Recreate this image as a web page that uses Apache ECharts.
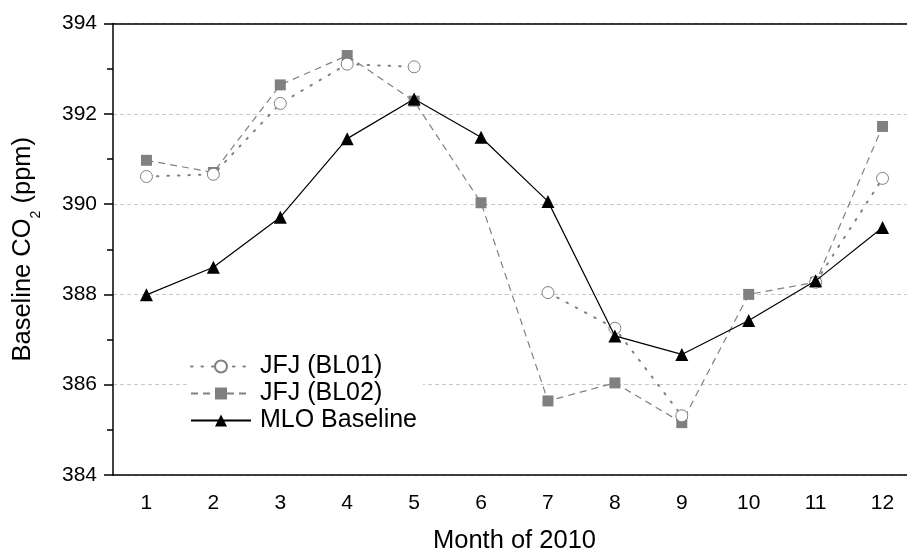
<!DOCTYPE html>
<html>
<head>
<meta charset="utf-8">
<script src="https://cdn.jsdelivr.net/npm/echarts@6/dist/echarts.min.js"></script>
<style>
html,body{margin:0;padding:0;background:#fff;}
#chart{width:907px;height:552px;}
</style>
</head>
<body>
<div id="chart"></div>
<script>
const months = ['1','2','3','4','5','6','7','8','9','10','11','12'];
const jfjBL01 = [390.61, 390.66, 392.23, 393.10, 393.04, null, 388.04, 387.25, 385.31, null, 388.27, 390.57];
const jfjBL02 = [390.97, 390.70, 392.64, 393.29, 392.28, 390.03, 385.64, 386.04, 385.16, 388.00, 388.27, 391.72];
const mloBaseline = [387.99, 388.60, 389.71, 391.45, 392.33, 391.48, 390.06, 387.08, 386.67, 387.42, 388.30, 389.48];
const seriesNames = ['JFJ (BL01)', 'JFJ (BL02)', 'MLO Baseline'];
const yMin = 384, yMax = 394, yStep = 2;

const FONT = '"Liberation Sans", Arial, sans-serif';
const chart = echarts.init(document.getElementById('chart'), null, {renderer: 'canvas'});
chart.setOption({
  animation: false,
  backgroundColor: '#fff',
  textStyle: {fontFamily: FONT, color: '#000'},
  grid: {left: 113, right: -9, top: 23.5, bottom: 77, containLabel: false, outerBoundsMode: 'none'},
  legend: {
    orient: 'vertical',
    left: 188,
    top: 352,
    data: seriesNames,
    itemWidth: 60,
    itemHeight: 15,
    itemGap: 2,
    padding: [2, 6, 2, 2],
    backgroundColor: '#fff',
    textStyle: {fontSize: 25, fontFamily: FONT, color: '#000', padding: [0, 0, 0, 4]},
    selectedMode: false
  },
  xAxis: [{
    type: 'category',
    data: months,
    boundaryGap: true,
    position: 'bottom',
    name: 'Month of 2010',
    nameLocation: 'middle',
    nameGap: 53,
    nameTextStyle: {fontSize: 25.5, fontFamily: FONT, color: '#000'},
    axisLine: {lineStyle: {color: '#000', width: 1.5}},
    axisTick: {alignWithLabel: true, inside: false, length: 9, lineStyle: {color: '#000', width: 1.5}},
    axisLabel: {fontSize: 21, fontFamily: FONT, color: '#000', margin: 18},
    splitLine: {show: false}
  }, {
    type: 'category',
    data: months,
    position: 'top',
    axisLine: {lineStyle: {color: '#000', width: 1.5}},
    axisTick: {show: false},
    axisLabel: {show: false},
    splitLine: {show: false}
  }],
  yAxis: {
    type: 'value',
    min: yMin,
    max: yMax,
    interval: yStep,
    name: 'Baseline CO{sub|2} (ppm)',
    nameLocation: 'middle',
    nameGap: 77,
    nameTextStyle: {
      fontSize: 25.5, fontFamily: FONT, color: '#000',
      rich: {sub: {fontSize: 14, fontFamily: FONT, color: '#000', lineHeight: 14, padding: [26, 0, 0, 0]}}
    },
    axisLine: {show: true, lineStyle: {color: '#000', width: 1.5}},
    axisTick: {show: true, length: 9, lineStyle: {color: '#000', width: 1.5}},
    minorTick: {show: true, splitNumber: 2, length: 6, lineStyle: {color: '#000', width: 1.5}},
    axisLabel: {fontSize: 21, fontFamily: FONT, color: '#000', margin: 16},
    splitLine: {show: true, lineStyle: {color: '#c8c8c8', type: [4, 3], width: 1}}
  },
  series: [{
    name: 'JFJ (BL02)',
    type: 'line',
    data: jfjBL02,
    symbol: 'rect',
    symbolSize: 11,
    itemStyle: {color: '#808080', borderWidth: 0},
    lineStyle: {color: '#808080', width: 1.2, type: [7, 5]},
    z: 2
  }, {
    name: 'JFJ (BL01)',
    type: 'line',
    data: jfjBL01,
    connectNulls: false,
    symbol: 'circle',
    symbolSize: 12,
    itemStyle: {color: '#fff', borderColor: '#808080', borderWidth: 1},
    lineStyle: {color: '#808080', width: 2, type: [1.5, 9], cap: 'round'},
    z: 3
  }, {
    name: 'MLO Baseline',
    type: 'line',
    data: mloBaseline,
    symbol: 'triangle',
    symbolSize: 13,
    itemStyle: {color: '#000'},
    lineStyle: {color: '#000', width: 1.2},
    z: 4
  }]
});
</script>
</body>
</html>
